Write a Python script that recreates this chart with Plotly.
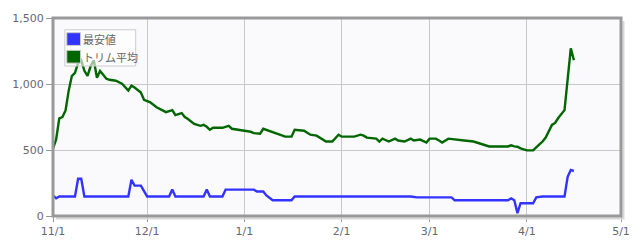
import plotly.graph_objects as go

# トリム平均 (trimmed mean)
trim_dates = [
    "2022-11-01", "2022-11-02", "2022-11-03", "2022-11-04", "2022-11-05", "2022-11-06",
    "2022-11-07", "2022-11-08", "2022-11-09", "2022-11-10", "2022-11-11", "2022-11-12",
    "2022-11-13", "2022-11-14", "2022-11-15", "2022-11-16", "2022-11-17", "2022-11-18",
    "2022-11-19", "2022-11-21", "2022-11-23", "2022-11-25", "2022-11-26", "2022-11-27",
    "2022-11-29", "2022-11-30",
    "2022-12-02", "2022-12-03", "2022-12-04", "2022-12-07", "2022-12-09", "2022-12-10",
    "2022-12-12", "2022-12-13", "2022-12-14", "2022-12-16", "2022-12-18", "2022-12-19",
    "2022-12-20", "2022-12-21", "2022-12-22", "2022-12-25", "2022-12-27", "2022-12-28",
    "2022-12-30",
    "2023-01-01", "2023-01-03", "2023-01-04", "2023-01-06", "2023-01-07", "2023-01-09",
    "2023-01-11", "2023-01-14", "2023-01-16", "2023-01-17", "2023-01-20", "2023-01-22",
    "2023-01-24", "2023-01-27", "2023-01-29", "2023-01-31",
    "2023-02-01", "2023-02-05", "2023-02-07", "2023-02-08", "2023-02-09", "2023-02-12",
    "2023-02-13", "2023-02-14", "2023-02-16", "2023-02-18", "2023-02-19", "2023-02-21",
    "2023-02-23", "2023-02-24", "2023-02-26", "2023-02-28",
    "2023-03-01", "2023-03-03", "2023-03-04", "2023-03-05", "2023-03-07", "2023-03-09",
    "2023-03-12", "2023-03-15", "2023-03-16", "2023-03-18", "2023-03-20", "2023-03-23",
    "2023-03-26", "2023-03-27", "2023-03-28", "2023-03-29", "2023-03-30",
    "2023-04-01", "2023-04-03", "2023-04-05", "2023-04-06", "2023-04-07", "2023-04-09",
    "2023-04-10", "2023-04-11", "2023-04-13", "2023-04-15", "2023-04-16",
]
trim_values = [
    510, 580, 740, 750, 800, 950,
    1060, 1085, 1160, 1180, 1100, 1062,
    1136, 1180, 1047, 1099, 1070, 1040,
    1032, 1025, 1002, 950, 987, 973,
    935, 880,
    861, 845, 824, 787, 802, 765,
    780, 750, 735, 698, 683, 690,
    676, 653, 668, 668, 683, 661,
    653,
    646, 638, 628, 624, 661, 645,
    624, 601, 601, 653, 646, 616,
    609, 564, 564, 616,
    601, 601, 616, 609, 594, 586,
    564, 586, 564, 586, 572, 564,
    586, 572, 579, 557,
    586, 586, 572, 557, 586, 579,
    572, 564, 557, 542, 527, 527,
    527, 535, 527, 525, 512,
    497, 497, 542, 564, 594, 690,
    705, 742, 802, 1270, 1180,
]

# 最安値 (lowest price)
low_dates = [
    "2022-11-01", "2022-11-02", "2022-11-03", "2022-11-08", "2022-11-09", "2022-11-10",
    "2022-11-11", "2022-11-25", "2022-11-26", "2022-11-27", "2022-11-29",
    "2022-12-01", "2022-12-08", "2022-12-09", "2022-12-10", "2022-12-19", "2022-12-20",
    "2022-12-21", "2022-12-25", "2022-12-26",
    "2023-01-04", "2023-01-05", "2023-01-07", "2023-01-08", "2023-01-10", "2023-01-16",
    "2023-01-17", "2023-02-23", "2023-02-25", "2023-03-08", "2023-03-09", "2023-03-26",
    "2023-03-27", "2023-03-28", "2023-03-29", "2023-03-30",
    "2023-04-03", "2023-04-04", "2023-04-06", "2023-04-13", "2023-04-14", "2023-04-15",
    "2023-04-16",
]
low_values = [
    156, 134, 148, 148, 282, 282,
    148, 148, 275, 230, 230,
    148, 148, 200, 148, 148, 200,
    148, 148, 200,
    200, 186, 186, 156, 119, 119,
    148, 148, 141, 141, 119, 119,
    134, 119, 22, 97,
    97, 141, 148, 148, 297, 349,
    341,
]

tick_vals = ["2022-11-01", "2022-12-01", "2023-01-01", "2023-02-01",
             "2023-03-01", "2023-04-01", "2023-05-01"]
tick_text = ["11/1", "12/1", "1/1", "2/1", "3/1", "4/1", "5/1"]

legend_names = ["最安値", "トリム平均"]
BLUE = "#3333ff"
GREEN = "#006600"
legend_colors = [BLUE, GREEN]

W, H = 642, 250
ML, MR, MT, MB = 46, 19, 16, 32
PW, PH = W - ML - MR, H - MT - MB


def px(x):
    return (x - ML) / PW


def py(y):
    return (H - MB - y) / PH


fig = go.Figure()

fig.add_trace(go.Scatter(x=trim_dates, y=trim_values, mode="lines",
                         line=dict(color=GREEN, width=2.4), showlegend=False,
                         name="トリム平均"))
fig.add_trace(go.Scatter(x=low_dates, y=low_values, mode="lines",
                         line=dict(color=BLUE, width=2.4), showlegend=False,
                         name="最安値"))

shapes = [
    # border shadow
    dict(type="line", xref="paper", yref="paper", x0=px(W - MR + 2.5), x1=px(W - MR + 2.5),
         y0=py(MT + 3), y1=py(H - MB + 2.5), line=dict(color="#d8d8d8", width=2), layer="above"),
    dict(type="line", xref="paper", yref="paper", x0=px(ML + 3), x1=px(W - MR + 3.5),
         y0=py(H - MB + 2.5), y1=py(H - MB + 2.5), line=dict(color="#d8d8d8", width=2), layer="above"),
    # plot border
    dict(type="rect", xref="paper", yref="paper", x0=0, x1=1, y0=0, y1=1,
         line=dict(color="#999999", width=3), layer="above"),
    # legend box
    dict(type="rect", xref="paper", yref="paper", x0=px(58), x1=px(130), y0=py(65), y1=py(28),
         line=dict(color="#cccccc", width=1), fillcolor="rgba(255,255,255,0.6)", layer="above"),
]
annotations = []
for i, (name, col) in enumerate(zip(legend_names, legend_colors)):
    top = 31 + i * 18
    shapes.append(dict(type="rect", xref="paper", yref="paper",
                       x0=px(60), x1=px(74), y0=py(top + 13), y1=py(top),
                       line=dict(color="#cccccc", width=1), fillcolor=col, layer="above"))
    annotations.append(dict(xref="paper", yref="paper", x=px(74), y=py(top + 6.5),
                            xanchor="left", yanchor="middle", showarrow=False,
                            text=name, font=dict(size=11, color="#666666",
                                                 family="Noto Sans CJK JP, sans-serif")))

fig.update_layout(
    width=W, height=H,
    margin=dict(l=ML, r=MR, t=MT, b=MB),
    paper_bgcolor="white",
    plot_bgcolor="#fafafd",
    font=dict(family="DejaVu Sans, Verdana, sans-serif", size=11, color="#555555"),
    showlegend=False,
    xaxis=dict(
        type="date",
        range=["2022-11-01", "2023-05-01"],
        tickvals=tick_vals, ticktext=tick_text,
        showgrid=True, gridcolor="#c8c8c8", gridwidth=1,
        ticks="outside", ticklen=5, tickcolor="#999999",
        showline=False, zeroline=False,
        tickfont=dict(size=11, color="#666677"),
    ),
    yaxis=dict(
        range=[0, 1500], dtick=500, tickformat=",",
        showgrid=True, gridcolor="#c8c8c8", gridwidth=1,
        ticks="outside", ticklen=6, tickcolor="#999999",
        showline=False, zeroline=False,
        tickfont=dict(size=11, color="#666677"),
    ),
    shapes=shapes,
    annotations=annotations,
)

fig.write_html("out.html")
